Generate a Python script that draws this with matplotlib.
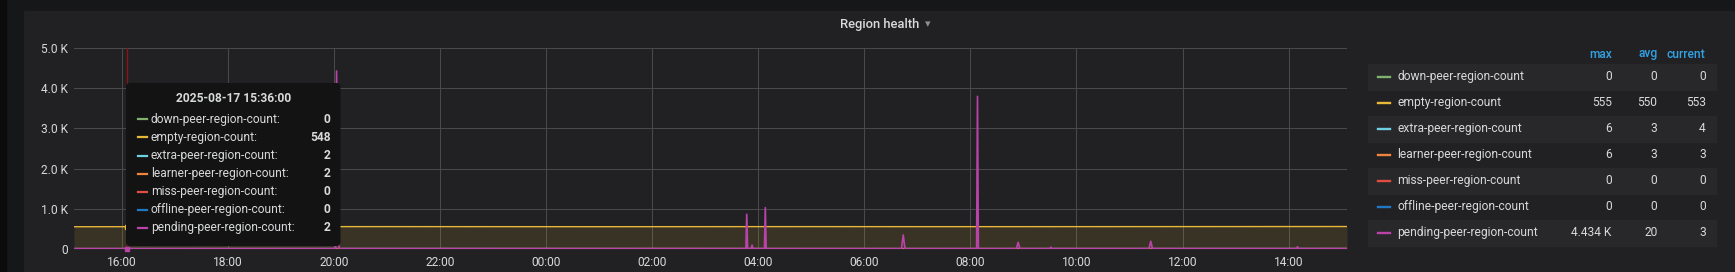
import matplotlib
matplotlib.use("Agg")
from matplotlib import pyplot as plt
from matplotlib.patches import FancyBboxPatch, Rectangle
from matplotlib.transforms import IdentityTransform
import matplotlib.dates as mdates
import pandas as pd

W, H = 1735, 272
plt.rcParams["font.family"] = ["Roboto", "DejaVu Sans"]

TXT = "#d8d9da"
PANEL = "#212124"

series_names = ["down-peer-region-count", "empty-region-count", "extra-peer-region-count",
                "learner-peer-region-count", "miss-peer-region-count",
                "offline-peer-region-count", "pending-peer-region-count"]
series_colors = ["#7eb26d", "#eab839", "#6ed0e0", "#ef843c", "#e24d42", "#1f78c1", "#ba43a9"]

# legend table (max / avg / current)
legend_max = ["0", "555", "6", "6", "0", "0", "4.434 K"]
legend_avg = ["0", "550", "3", "3", "0", "0", "20"]
legend_cur = ["0", "553", "4", "3", "0", "0", "3"]

# hover tooltip
tooltip_title = "2025-08-17 15:36:00"
tooltip_vals = ["0", "548", "2", "2", "0", "0", "2"]
hover_time = "2025-08-17 16:06"
hover_empty = 548
hover_pending = 2

# time range of the panel
x_start = "2025-08-17 15:06"
x_end = "2025-08-18 15:06"

yticks = [0, 1000, 2000, 3000, 4000, 5000]
ytick_labels = ["0", "1.0 K", "2.0 K", "3.0 K", "4.0 K", "5.0 K"]

# flat-ish series
t_flat = ["2025-08-17 15:06", "2025-08-17 18:00", "2025-08-17 22:00", "2025-08-18 02:00",
          "2025-08-18 06:00", "2025-08-18 10:00", "2025-08-18 15:06"]
down_vals = [0, 0, 0, 0, 0, 0, 0]
extra_vals = [2, 3, 4, 3, 2, 3, 4]
learner_vals = [2, 3, 3, 4, 3, 3, 3]
miss_vals = [0, 0, 0, 0, 0, 0, 0]
offline_vals = [0, 0, 0, 0, 0, 0, 0]

t_empty = ["2025-08-17 15:06", "2025-08-17 17:00", "2025-08-17 19:00", "2025-08-17 21:00",
           "2025-08-17 23:00", "2025-08-18 01:00", "2025-08-18 03:00", "2025-08-18 05:00",
           "2025-08-18 07:00", "2025-08-18 09:00", "2025-08-18 11:00", "2025-08-18 13:00",
           "2025-08-18 15:06"]
empty_vals = [548, 549, 550, 551, 550, 549, 550, 551, 550, 550, 551, 552, 553]

t_pending = ["2025-08-17 15:06", "2025-08-17 20:02", "2025-08-17 20:03", "2025-08-17 20:05", "2025-08-17 20:06",
             "2025-08-18 03:46", "2025-08-18 03:47", "2025-08-18 03:48",
             "2025-08-18 03:52", "2025-08-18 03:53", "2025-08-18 03:54",
             "2025-08-18 04:07", "2025-08-18 04:08", "2025-08-18 04:09",
             "2025-08-18 06:42", "2025-08-18 06:44", "2025-08-18 06:46",
             "2025-08-18 08:07", "2025-08-18 08:08", "2025-08-18 08:09",
             "2025-08-18 08:52", "2025-08-18 08:54", "2025-08-18 08:56",
             "2025-08-18 09:30", "2025-08-18 09:31", "2025-08-18 09:32",
             "2025-08-18 11:22", "2025-08-18 11:24", "2025-08-18 11:26",
             "2025-08-18 14:09", "2025-08-18 14:10", "2025-08-18 14:11",
             "2025-08-18 15:06"]
pending_vals = [2, 2, 4434, 300, 2,
                2, 860, 2,
                2, 90, 2,
                2, 1025, 2,
                2, 343, 2,
                2, 3800, 2,
                2, 160, 2,
                2, 40, 2,
                2, 185, 2,
                2, 50, 2,
                3]

series_times = [t_flat, t_empty, t_flat, t_flat, t_flat, t_flat, t_pending]
series_vals = [down_vals, empty_vals, extra_vals, learner_vals, miss_vals, offline_vals, pending_vals]


def fx(x):
    return x / W


def fy(y):
    return 1 - y / H


fig = plt.figure(figsize=(W / 100, H / 100), dpi=100, facecolor="#161719")
# dark left strip + panel background
fig.patches.append(Rectangle((0, 0), 6 / W, 1, transform=fig.transFigure,
                             color="#0b0b0c", zorder=-2))
fig.patches.append(Rectangle((fx(24), 0), 1, fy(11), transform=fig.transFigure,
                             color=PANEL, zorder=-1))

ax = fig.add_axes([fx(74), fy(248.7), fx(1347) - fx(74), fy(48.3) - fy(248.7)])
ax.set_facecolor(PANEL)
ax.patch.set_alpha(0)
for s in ax.spines.values():
    s.set_visible(False)

for times, vals, col in zip(series_times, series_vals, series_colors):
    t = pd.to_datetime(times)
    ax.fill_between(t, 0, vals, color=col, alpha=0.12, lw=0, zorder=2)
    ax.plot(t, vals, color=col, lw=1.2 if col == "#ba43a9" else 1.0, zorder=3)

# crosshair and hover markers
ht = pd.Timestamp(hover_time)
ax.axvline(ht, color="#8f1416", lw=0.9, zorder=4)
ax.plot([ht], [hover_empty], "s", ms=2.5, color=series_colors[1], zorder=5)
ax.plot([ht], [hover_pending], "s", ms=3, color=series_colors[6], zorder=5, clip_on=False)

ax.set_xlim(pd.Timestamp(x_start), pd.Timestamp(x_end))
ax.set_ylim(0, 5000)
ax.set_yticks(yticks)
ax.set_yticklabels(ytick_labels)
ax.xaxis.set_major_locator(mdates.HourLocator(byhour=range(0, 24, 2)))
ax.xaxis.set_major_formatter(mdates.DateFormatter("%H:%M"))
ax.grid(True, color="#4a4a4d", lw=0.75)
ax.set_axisbelow(True)
ax.tick_params(axis="both", length=0, colors=TXT, labelsize=8.64)
ax.tick_params(axis="y", pad=4.2)
ax.tick_params(axis="x", pad=5.5)

# title
fig.text(fx(880), fy(24.5), "Region health", ha="center", va="center",
         color=TXT, fontsize=9.36, fontweight="medium")
fig.text(fx(928), fy(24.5), "\u25be", ha="center", va="center", color="#8e8e90",
         fontsize=8, family=["DejaVu Sans"])

# tooltip
fig.patches.append(FancyBboxPatch((126, H - 246), 214.5, 163,
                                  boxstyle="round,pad=0,rounding_size=4",
                                  transform=IdentityTransform(),
                                  facecolor="#131313", edgecolor="none", zorder=6))
fig.text(fx(233.4), fy(98.7), tooltip_title, ha="center", va="center",
         color=TXT, fontsize=8.64, fontweight="bold", zorder=7)
for i, (name, col, val) in enumerate(zip(series_names, series_colors, tooltip_vals)):
    y = 119.3 + i * 18.1
    fig.add_artist(plt.Line2D([fx(137.5), fx(147.3)], [fy(y), fy(y)], color=col,
                              lw=1.6, transform=fig.transFigure, zorder=7))
    fig.text(fx(150.8), fy(y), name + ":", ha="left", va="center", color=TXT,
             fontsize=8.64, zorder=7)
    fig.text(fx(330.5), fy(y), val, ha="right", va="center", color=TXT,
             fontsize=8.64, fontweight="bold", zorder=7)

# legend table
for lbl, xr in zip(["max", "avg", "current"], [1611.7, 1657.3, 1705.7]):
    fig.text(fx(xr), fy(54), lbl, ha="right", va="center", color="#33a2e5",
             fontsize=8.64, fontweight="medium")
for i, (name, col) in enumerate(zip(series_names, series_colors)):
    y = 76.7 + i * 26
    if i % 2 == 0:
        fig.patches.append(Rectangle((fx(1368.3), fy(y + 13)), fx(1715.7) - fx(1368.3),
                                     26 / H, transform=fig.transFigure,
                                     color="#28282b", zorder=0))
    fig.add_artist(plt.Line2D([fx(1378.3), fx(1390)], [fy(y + 0.5), fy(y + 0.5)], color=col,
                              lw=1.7, transform=fig.transFigure))
    fig.text(fx(1397), fy(y), name, ha="left", va="center", color=TXT, fontsize=8.64)
    for vals, xr in zip([legend_max, legend_avg, legend_cur], [1611.7, 1657.3, 1705.7]):
        fig.text(fx(xr), fy(y), vals[i], ha="right", va="center", color=TXT, fontsize=8.64)

fig.savefig("out.png", dpi=100, facecolor=fig.get_facecolor())
